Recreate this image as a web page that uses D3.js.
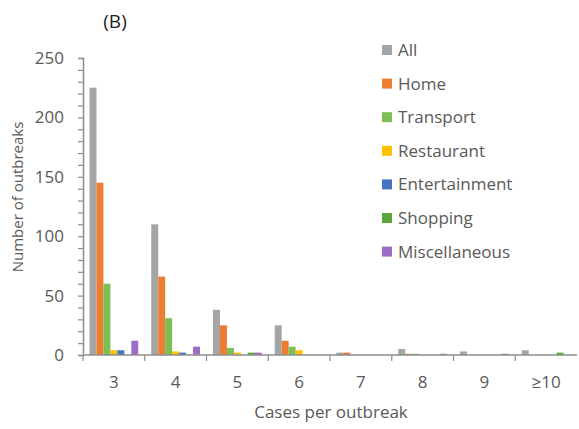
<!DOCTYPE html>
<html>
<head>
<meta charset="utf-8">
<script src="https://cdn.jsdelivr.net/npm/d3@7"></script>
<style>
  body { margin: 0; background: #fff; }
  svg text { font-family: 'Open Sans', sans-serif; fill: #595959; }
</style>
</head>
<body>
<div id="chart"></div>
<script>
// cases per outbreak
const categories = ['3', '4', '5', '6', '7', '8', '9', '≥10'];

const seriesNames = ['All', 'Home', 'Transport', 'Restaurant', 'Entertainment', 'Shopping', 'Miscellaneous'];
const seriesColors = ['#a5a5a5', '#ed7d31', '#7cbf55', '#ffc000', '#4472c4', '#5aa63a', '#9e6cc7'];

const allValues = [225, 110, 38, 25, 2, 5, 3, 4];
const homeValues = [145, 66, 25, 12, 2, 1, 0, 0];
const transportValues = [60, 31, 6, 7, 0, 1, 0, 0];
const restaurantValues = [4, 3, 2, 4, 0, 0, 0, 0];
const entertainmentValues = [4, 2, 0, 0, 0, 0, 0, 0];
const shoppingValues = [0, 0, 2, 0, 0, 0, 0, 2];
const miscValues = [12, 7, 2, 0, 0, 1, 1, 0];

const yTicks = [0, 50, 100, 150, 200, 250];

const seriesValues = [allValues, homeValues, transportValues, restaurantValues,
  entertainmentValues, shoppingValues, miscValues];

const width = 579;
const height = 429;
const margin = { left: 83, right: 2, top: 58, bottom: 74 };

const svg = d3.select('#chart')
  .append('svg')
  .attr('width', width)
  .attr('height', height);

const x0 = d3.scaleBand()
  .domain(categories)
  .range([margin.left, width - margin.right]);

const x1 = d3.scaleBand()
  .domain(seriesNames)
  .range([0, x0.bandwidth()])
  .paddingOuter(0.93);

const y = d3.scaleLinear()
  .domain([0, 250])
  .range([height - margin.bottom, margin.top]);

const axisColor = '#8c8c8c';

// y axis, minor ticks every 10
const yAxis = svg.append('g')
  .attr('transform', `translate(${margin.left},0)`)
  .call(d3.axisLeft(y)
    .tickValues(d3.range(0, 251, 10))
    .tickSize(5)
    .tickFormat((d) => (yTicks.includes(d) ? d : '')));
yAxis.select('.domain').attr('stroke', axisColor).attr('stroke-width', 1.5);
yAxis.selectAll('.tick line').attr('stroke', axisColor).attr('stroke-width', 1.2);
yAxis.selectAll('.tick text')
  .attr('x', -19)
  .style('font-size', '17px')
  .style('fill', '#595959');

// bars
const groups = svg.append('g')
  .selectAll('g')
  .data(categories)
  .join('g')
  .attr('transform', (d) => `translate(${x0(d)},0)`);

groups.selectAll('rect')
  .data((d, i) => seriesNames.map((name, s) => ({ name, s, value: seriesValues[s][i] })))
  .join('rect')
  .attr('x', (d) => x1(d.name))
  .attr('width', x1.bandwidth())
  .attr('y', (d) => y(d.value))
  .attr('height', (d) => y(0) - y(d.value))
  .attr('fill', (d) => seriesColors[d.s]);

// x axis with ticks at category boundaries
const xAxisG = svg.append('g')
  .attr('transform', `translate(0,${y(0)})`);
xAxisG.append('line')
  .attr('x1', margin.left)
  .attr('x2', width - margin.right)
  .attr('stroke', axisColor)
  .attr('stroke-width', 1.5);
xAxisG.selectAll('line.tick')
  .data(categories)
  .join('line')
  .attr('class', 'tick')
  .attr('x1', (d) => x0(d))
  .attr('x2', (d) => x0(d))
  .attr('y2', 6)
  .attr('stroke', axisColor)
  .attr('stroke-width', 1.2);
xAxisG.selectAll('text')
  .data(categories)
  .join('text')
  .attr('x', (d) => x0(d) + x0.bandwidth() / 2)
  .attr('y', 33)
  .attr('text-anchor', 'middle')
  .style('font-size', '17px')
  .text((d) => d);

// axis titles
svg.append('text')
  .attr('x', 331)
  .attr('y', 418)
  .attr('text-anchor', 'middle')
  .style('font-size', '17px')
  .text('Cases per outbreak');

svg.append('text')
  .attr('transform', 'translate(23,197) rotate(-90)')
  .attr('text-anchor', 'middle')
  .style('font-size', '15px')
  .text('Number of outbreaks');

svg.append('text')
  .attr('x', 115)
  .attr('y', 28)
  .attr('text-anchor', 'middle')
  .style('font-size', '19px')
  .style('fill', '#222')
  .text('(B)');

// legend
const legend = svg.append('g')
  .selectAll('g')
  .data(seriesNames)
  .join('g')
  .attr('transform', (d, i) => `translate(382,${50 + i * 33.6})`);

legend.append('rect')
  .attr('y', -5)
  .attr('width', 10)
  .attr('height', 10)
  .attr('fill', (d, i) => seriesColors[i]);

legend.append('text')
  .attr('x', 16)
  .attr('y', 6)
  .style('font-size', '17px')
  .text((d) => d);
</script>
</body>
</html>
